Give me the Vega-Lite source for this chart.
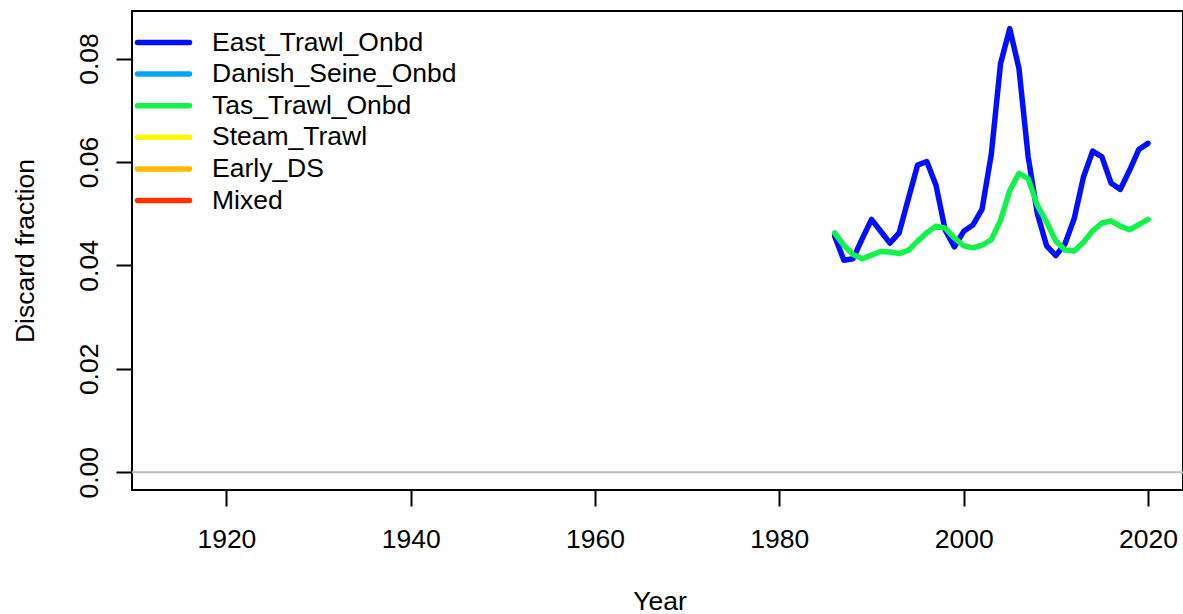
{
  "$schema": "https://vega.github.io/schema/vega-lite/v6.json",
  "width": 1051,
  "height": 479,
  "autosize": "none",
  "padding": {"left": 132, "top": 11, "right": 0, "bottom": 124},
  "background": "white",
  "config": {
    "font": "Liberation Sans",
    "view": {"stroke": "black", "strokeWidth": 2},
    "axis": {"labelFont": "Liberation Sans", "titleFont": "Liberation Sans"},
    "legend": {"labelFont": "Liberation Sans"}
  },
  "datasets": {
    "series": [
      {"Year": 1986, "Fleet": "East_Trawl_Onbd", "Discard": 0.0457},
      {"Year": 1987, "Fleet": "East_Trawl_Onbd", "Discard": 0.0410},
      {"Year": 1988, "Fleet": "East_Trawl_Onbd", "Discard": 0.0413},
      {"Year": 1989, "Fleet": "East_Trawl_Onbd", "Discard": 0.0452},
      {"Year": 1990, "Fleet": "East_Trawl_Onbd", "Discard": 0.0489},
      {"Year": 1991, "Fleet": "East_Trawl_Onbd", "Discard": 0.0466},
      {"Year": 1992, "Fleet": "East_Trawl_Onbd", "Discard": 0.0443},
      {"Year": 1993, "Fleet": "East_Trawl_Onbd", "Discard": 0.0463},
      {"Year": 1994, "Fleet": "East_Trawl_Onbd", "Discard": 0.0529},
      {"Year": 1995, "Fleet": "East_Trawl_Onbd", "Discard": 0.0594},
      {"Year": 1996, "Fleet": "East_Trawl_Onbd", "Discard": 0.0601},
      {"Year": 1997, "Fleet": "East_Trawl_Onbd", "Discard": 0.0555},
      {"Year": 1998, "Fleet": "East_Trawl_Onbd", "Discard": 0.0468},
      {"Year": 1999, "Fleet": "East_Trawl_Onbd", "Discard": 0.0436},
      {"Year": 2000, "Fleet": "East_Trawl_Onbd", "Discard": 0.0466},
      {"Year": 2001, "Fleet": "East_Trawl_Onbd", "Discard": 0.0478},
      {"Year": 2002, "Fleet": "East_Trawl_Onbd", "Discard": 0.0509},
      {"Year": 2003, "Fleet": "East_Trawl_Onbd", "Discard": 0.0615},
      {"Year": 2004, "Fleet": "East_Trawl_Onbd", "Discard": 0.0790},
      {"Year": 2005, "Fleet": "East_Trawl_Onbd", "Discard": 0.0858},
      {"Year": 2006, "Fleet": "East_Trawl_Onbd", "Discard": 0.0781},
      {"Year": 2007, "Fleet": "East_Trawl_Onbd", "Discard": 0.0610},
      {"Year": 2008, "Fleet": "East_Trawl_Onbd", "Discard": 0.0500},
      {"Year": 2009, "Fleet": "East_Trawl_Onbd", "Discard": 0.0438},
      {"Year": 2010, "Fleet": "East_Trawl_Onbd", "Discard": 0.0419},
      {"Year": 2011, "Fleet": "East_Trawl_Onbd", "Discard": 0.0442},
      {"Year": 2012, "Fleet": "East_Trawl_Onbd", "Discard": 0.0491},
      {"Year": 2013, "Fleet": "East_Trawl_Onbd", "Discard": 0.0571},
      {"Year": 2014, "Fleet": "East_Trawl_Onbd", "Discard": 0.0621},
      {"Year": 2015, "Fleet": "East_Trawl_Onbd", "Discard": 0.0610},
      {"Year": 2016, "Fleet": "East_Trawl_Onbd", "Discard": 0.0559},
      {"Year": 2017, "Fleet": "East_Trawl_Onbd", "Discard": 0.0547},
      {"Year": 2018, "Fleet": "East_Trawl_Onbd", "Discard": 0.0584},
      {"Year": 2019, "Fleet": "East_Trawl_Onbd", "Discard": 0.0624},
      {"Year": 2020, "Fleet": "East_Trawl_Onbd", "Discard": 0.0636},
      {"Year": 1986, "Fleet": "Tas_Trawl_Onbd", "Discard": 0.0463},
      {"Year": 1987, "Fleet": "Tas_Trawl_Onbd", "Discard": 0.0439},
      {"Year": 1988, "Fleet": "Tas_Trawl_Onbd", "Discard": 0.0421},
      {"Year": 1989, "Fleet": "Tas_Trawl_Onbd", "Discard": 0.0413},
      {"Year": 1990, "Fleet": "Tas_Trawl_Onbd", "Discard": 0.0420},
      {"Year": 1991, "Fleet": "Tas_Trawl_Onbd", "Discard": 0.0427},
      {"Year": 1992, "Fleet": "Tas_Trawl_Onbd", "Discard": 0.0426},
      {"Year": 1993, "Fleet": "Tas_Trawl_Onbd", "Discard": 0.0423},
      {"Year": 1994, "Fleet": "Tas_Trawl_Onbd", "Discard": 0.0429},
      {"Year": 1995, "Fleet": "Tas_Trawl_Onbd", "Discard": 0.0447},
      {"Year": 1996, "Fleet": "Tas_Trawl_Onbd", "Discard": 0.0463},
      {"Year": 1997, "Fleet": "Tas_Trawl_Onbd", "Discard": 0.0476},
      {"Year": 1998, "Fleet": "Tas_Trawl_Onbd", "Discard": 0.0472},
      {"Year": 1999, "Fleet": "Tas_Trawl_Onbd", "Discard": 0.0453},
      {"Year": 2000, "Fleet": "Tas_Trawl_Onbd", "Discard": 0.0438},
      {"Year": 2001, "Fleet": "Tas_Trawl_Onbd", "Discard": 0.0434},
      {"Year": 2002, "Fleet": "Tas_Trawl_Onbd", "Discard": 0.0439},
      {"Year": 2003, "Fleet": "Tas_Trawl_Onbd", "Discard": 0.0450},
      {"Year": 2004, "Fleet": "Tas_Trawl_Onbd", "Discard": 0.0487},
      {"Year": 2005, "Fleet": "Tas_Trawl_Onbd", "Discard": 0.0545},
      {"Year": 2006, "Fleet": "Tas_Trawl_Onbd", "Discard": 0.0578},
      {"Year": 2007, "Fleet": "Tas_Trawl_Onbd", "Discard": 0.0568},
      {"Year": 2008, "Fleet": "Tas_Trawl_Onbd", "Discard": 0.0516},
      {"Year": 2009, "Fleet": "Tas_Trawl_Onbd", "Discard": 0.0484},
      {"Year": 2010, "Fleet": "Tas_Trawl_Onbd", "Discard": 0.0447},
      {"Year": 2011, "Fleet": "Tas_Trawl_Onbd", "Discard": 0.0430},
      {"Year": 2012, "Fleet": "Tas_Trawl_Onbd", "Discard": 0.0428},
      {"Year": 2013, "Fleet": "Tas_Trawl_Onbd", "Discard": 0.0445},
      {"Year": 2014, "Fleet": "Tas_Trawl_Onbd", "Discard": 0.0467},
      {"Year": 2015, "Fleet": "Tas_Trawl_Onbd", "Discard": 0.0482},
      {"Year": 2016, "Fleet": "Tas_Trawl_Onbd", "Discard": 0.0486},
      {"Year": 2017, "Fleet": "Tas_Trawl_Onbd", "Discard": 0.0476},
      {"Year": 2018, "Fleet": "Tas_Trawl_Onbd", "Discard": 0.0469},
      {"Year": 2019, "Fleet": "Tas_Trawl_Onbd", "Discard": 0.0479},
      {"Year": 2020, "Fleet": "Tas_Trawl_Onbd", "Discard": 0.0489}
    ],
    "zero": [{"Level": 0}]
  },
  "layer": [
    {
      "data": {"name": "zero"},
      "mark": {"type": "rule", "color": "#BEBEBE", "strokeWidth": 2},
      "encoding": {
        "y": {"field": "Level", "type": "quantitative"}
      }
    },
    {
      "data": {"name": "series"},
      "mark": {"type": "line", "strokeWidth": 5.5, "strokeCap": "round", "strokeJoin": "round"},
      "encoding": {
        "x": {
          "field": "Year",
          "type": "quantitative",
          "scale": {"domain": [1909.76, 2023.8], "nice": false, "zero": false},
          "axis": {
            "values": [1920, 1940, 1960, 1980, 2000, 2020],
            "format": "d",
            "domain": false,
            "grid": false,
            "ticks": true,
            "tickSize": 16,
            "tickWidth": 2,
            "tickColor": "black",
            "labelFontSize": 26.5,
            "labelColor": "black",
            "labelBaseline": "alphabetic",
            "labelPadding": 41,
            "labelFlush": false,
            "labelOverlap": false,
            "title": "Year",
            "titleFontSize": 26.5,
            "titleFontWeight": "normal",
            "titleColor": "black",
            "titleBaseline": "alphabetic",
            "titleAlign": "center",
            "titleX": 527.5,
            "titleY": 119
          }
        },
        "y": {
          "field": "Discard",
          "type": "quantitative",
          "scale": {"domain": [-0.00343, 0.0892], "nice": false, "zero": false},
          "axis": {
            "values": [0, 0.02, 0.04, 0.06, 0.08],
            "format": ".2f",
            "domain": false,
            "grid": false,
            "tickSize": 16,
            "tickWidth": 2,
            "tickColor": "black",
            "labelFontSize": 26.5,
            "labelColor": "black",
            "labelAngle": 270,
            "labelAlign": "center",
            "labelBaseline": "alphabetic",
            "labelPadding": 19,
            "labelFlush": false,
            "labelOverlap": false,
            "title": "Discard fraction",
            "titleFontSize": 26.5,
            "titleFontWeight": "normal",
            "titleColor": "black",
            "titleAngle": 270,
            "titleAlign": "center",
            "titleBaseline": "alphabetic",
            "titleX": -99,
            "titleY": 239.5
          }
        },
        "color": {
          "field": "Fleet",
          "type": "nominal",
          "scale": {
            "domain": ["East_Trawl_Onbd", "Danish_Seine_Onbd", "Tas_Trawl_Onbd", "Steam_Trawl", "Early_DS", "Mixed"],
            "range": ["#0010FF", "#00A4FF", "#13F24A", "#F6F906", "#FFBA00", "#FF3300"]
          },
          "legend": {
            "orient": "none",
            "legendX": 15.5,
            "legendY": 15.5,
            "padding": 0,
            "title": null,
            "symbolType": "M-2,0H2",
            "symbolSize": 676,
            "symbolStrokeWidth": 5.5,
            "labelFontSize": 26.5,
            "labelColor": "black",
            "labelOffset": 32.5,
            "labelLimit": 500,
            "rowPadding": 1.6,
            "encode": {"symbols": {"update": {"strokeCap": {"value": "round"}}}}
          }
        }
      }
    }
  ]
}
